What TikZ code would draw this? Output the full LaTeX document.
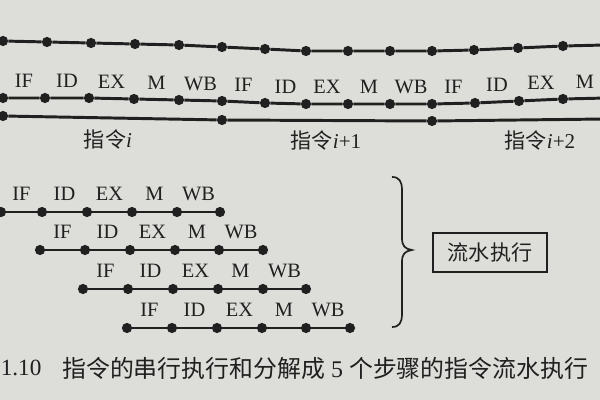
\documentclass[tikz,border=0pt]{standalone}
\usepackage{fontspec}
\setmainfont{Liberation Serif}
\newfontfamily\cjk{Noto Sans CJK SC}
\usetikzlibrary{calc}
\definecolor{paper}{RGB}{221,221,217}
\definecolor{ink}{RGB}{32,32,32}
\begin{document}
\begin{tikzpicture}[x=0.025cm,y=-0.025cm,
  dot/.style={circle,fill=ink,draw=none,inner sep=0pt,minimum size=0.255cm},
  wire/.style={draw=ink,line width=2.1pt},
  stage/.style={text=ink,font=\fontsize{14.5}{16}\selectfont,inner sep=0pt},
  instr/.style={text=ink,font=\fontsize{15}{17}\selectfont,inner sep=0pt},
  capt/.style={text=ink,font=\fontsize{16.5}{19}\selectfont,inner sep=0pt},
  framed/.style={draw=ink,line width=1.5pt,text=ink,font=\fontsize{15}{17}\selectfont\cjk,
    minimum width=2.85cm,minimum height=0.97cm,inner sep=0pt},
  bracestyle/.style={draw=ink,line width=1.2pt}]
\useasboundingbox (0,0) rectangle (600,400);
\fill[paper] (0,0) rectangle (600,400);

% ---- serial execution: top line
\foreach \n/\x/\y in {1/3/41,2/47/42,3/91/43,4/135/44,5/179/45,6/222/47,7/265/49,
  8/306/51,9/348/51,10/390/51,11/432/51,12/474/50,13/518/48,14/563/46}
  \node[dot] (t\n) at (\x,\y) {};
\coordinate (tL) at (-5,41);
\coordinate (tR) at (605,45);
\draw[wire] (tL) -- (t1) -- (t2) -- (t3) -- (t4) -- (t5) -- (t6) -- (t7) -- (t8)
  -- (t9) -- (t10) -- (t11) -- (t12) -- (t13) -- (t14) -- (tR);

% ---- serial execution: stage line
\foreach \n/\x/\y in {1/3/98,2/45/98,3/89/98,4/134/99,5/179/100,6/222/101,7/265/103,
  8/306/104,9/348/104,10/390/104,11/432/104,12/475/103,13/519/101,14/563/99}
  \node[dot] (m\n) at (\x,\y) {};
\coordinate (m15) at (607,98);
\coordinate (mL) at (-5,98);
\draw[wire] (mL) -- (m1) -- (m2) -- (m3) -- (m4) -- (m5) -- (m6) -- (m7) -- (m8)
  -- (m9) -- (m10) -- (m11) -- (m12) -- (m13) -- (m14) -- (m15);
\foreach \a/\b/\t in {1/2/IF,2/3/ID,3/4/EX,4/5/M,5/6/WB,6/7/IF,7/8/ID,8/9/EX,9/10/M,
  10/11/WB,11/12/IF,12/13/ID,13/14/EX,14/15/M}
  \node[stage] (ms\a) at ($(m\a)!0.5!(m\b)+(0,-17)$) {\t};

% ---- serial execution: instruction line
\node[dot] (r1) at (3,116) {};
\node[dot] (r2) at (222,120) {};
\node[dot] (r3) at (432,121) {};
\coordinate (rL) at (-5,116);
\coordinate (rR) at (605,119);
\draw[wire] (rL) -- (r1) -- (r2) -- (r3) -- (rR);
\node[instr] (i0) at (108,139) {\cjk 指令\rmfamily\itshape i};
\node[instr] (i1) at (326,140) {\cjk 指令\rmfamily\textit{i}+1};
\node[instr] (i2) at (540,140) {\cjk 指令\rmfamily\textit{i}+2};

% ---- pipelined execution
\foreach \r/\y/\xs in {a/212/{1,42,87,132,177,220},
                       b/250/{40,85,130,175,219,263},
                       c/289/{83,128,173,218,263,306},
                       d/328/{127,172,217,262,306,350}}{
  \foreach \x [count=\k] in \xs
    \node[dot] (\r\k) at (\x,\y) {};
  \draw[wire] (\r1) -- (\r2) -- (\r3) -- (\r4) -- (\r5) -- (\r6);
  \foreach \a/\b/\t in {1/2/IF,2/3/ID,3/4/EX,4/5/M,5/6/WB}
    \node[stage] (\r s\a) at ($(\r\a)!0.5!(\r\b)+(0,-18)$) {\t};
}

% ---- brace and label
\draw[bracestyle] (392,177) .. controls (399,177) and (402,181) .. (402,190)
  -- (402,238) .. controls (402,246) and (405,249) .. (412,250)
  .. controls (405,251) and (402,254) .. (402,262)
  -- (402,314) .. controls (402,323) and (399,327) .. (392,327);
\node[framed] (pipe) at (490,252.5) {流水执行};

% ---- caption
\node[capt,anchor=west] (capnum) at (0.5,368) {1.10};
\node[capt,anchor=west,font=\fontsize{17}{19}\selectfont] (captext) at (62,368)
  {\cjk 指令的串行执行和分解成\rmfamily{} 5 \cjk{}个步骤的指令流水执行};
\end{tikzpicture}
\end{document}
